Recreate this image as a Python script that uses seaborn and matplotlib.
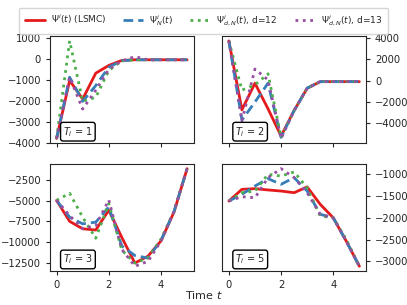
import matplotlib
matplotlib.use("Agg")
import matplotlib.pyplot as plt
import seaborn as sns
import pandas as pd

sns.set_style("ticks")
plt.rcParams['font.family'] = ['DejaVu Sans']

# time grid
t = [0, 0.5, 1, 1.5, 2, 2.5, 3, 3.5, 4, 4.5, 5]

# T_i = 1
lsmc_1 = [-3800, -1040, -1920, -690, -320, -80, -50, -50, -50, -50, -50]
psin_1 = [-3800, -880, -2030, -1280, -400, -100, -50, -50, -50, -50, -50]
d12_1 = [-3800, 850, -2030, -1840, -560, -100, -50, -50, -50, -50, -50]
d13_1 = [-3800, -880, -2400, -1500, -500, -100, 100, -50, -50, -50, -50]

# T_i = 2
lsmc_2 = [3700, -2730, -250, -2630, -5170, -2790, -730, -100, -100, -100, -100]
psin_2 = [3700, -3680, -2000, -250, -5300, -2800, -700, -100, -100, -100, -100]
d12_2 = [3700, -890, -400, 630, -5300, -2800, -700, -100, -100, -100, -100]
d13_2 = [3700, -3750, 1080, 60, -5400, -2800, -700, -100, -100, -100, -100]

# T_i = 3
lsmc_3 = [-4950, -7500, -8400, -8550, -6150, -9450, -12560, -11730, -9870, -6350, -1100]
psin_3 = [-4950, -7000, -7800, -7600, -5750, -10500, -11650, -11950, -9800, -6300, -1100]
d12_3 = [-4950, -4080, -7000, -9550, -5330, -11000, -12560, -11950, -9650, -6300, -1100]
d13_3 = [-4950, -6800, -8400, -8000, -4900, -10900, -12950, -12350, -9900, -6300, -1100]

# T_i = 5
lsmc_5 = [-16150, -13460, -13300, -13600, -13850, -14230, -12900, -16900, -20000, -25400, -31150]
psin_5 = [-16150, -14600, -12700, -11000, -12300, -10770, -13850, -19200, -20000, -25400, -31150]
d12_5 = [-16150, -14230, -13850, -10000, -10400, -9460, -13080, -19600, -20000, -25000, -31150]
d13_5 = [-16150, -15150, -15400, -10770, -8700, -10770, -14230, -19200, -20000, -25400, -31150]

panels = [
    ("1", [lsmc_1, psin_1, d12_1, d13_1]),
    ("2", [lsmc_2, psin_2, d12_2, d13_2]),
    ("3", [lsmc_3, psin_3, d12_3, d13_3]),
    ("5", [lsmc_5, psin_5, d12_5, d13_5]),
]

labels = [r'$\Psi^i(t)$ (LSMC)', r'$\Psi^i_N(t)$',
          r'$\Psi^i_{d,N}(t)$, d=12', r'$\Psi^i_{d,N}(t)$, d=13']
colors = ['#e41a1c', '#377eb8', '#4daf4a', '#984ea3']
styles = ['-', (0, (3.5, 1.8)), ':', ':']

fig, axes = plt.subplots(2, 2, figsize=(4.07, 3.05), dpi=100, sharex=True)
fig.subplots_adjust(left=0.123, right=0.899, top=0.882, bottom=0.111,
                    wspace=0.2, hspace=0.19)

for ax, (ti, series) in zip(axes.flat, panels):
    for vals, lab, c, ls in zip(series, labels, colors, styles):
        df = pd.DataFrame({'t': t, 'v': vals})
        sns.lineplot(data=df, x='t', y='v', ax=ax, color=c, linestyle=ls,
                     linewidth=2, label=lab, legend=False)
    ax.set_xlabel('')
    ax.set_ylabel('')
    ax.set_xticks([0, 2, 4])
    ax.tick_params(labelsize=7.2, length=3)
    ax.text(0.09, 0.08, r'$T_i$ = ' + ti, transform=ax.transAxes, fontsize=7,
            bbox=dict(boxstyle='round,pad=0.25', facecolor='white', edgecolor='black'))

for ax in axes[:, 1]:
    ax.yaxis.tick_right()

axes[0, 0].set_yticks([1000, 0, -1000, -2000, -3000, -4000])
axes[0, 1].set_yticks([4000, 2000, 0, -2000, -4000])
axes[1, 0].set_yticks([-2500, -5000, -7500, -10000, -12500])
axes[1, 1].set_yticks([-10000, -15000, -20000, -25000, -30000])

handles, labs = axes[0, 0].get_legend_handles_labels()
fig.legend(handles, labs, loc='upper center', ncol=4, fontsize=6.5,
           bbox_to_anchor=(0.5, 0.99), handlelength=2.2, handletextpad=0.66,
           columnspacing=1.9, borderpad=0.6, frameon=True)
fig.text(0.5, 0.02, r'Time $t$', ha='center', fontsize=8)

plt.savefig('out.png', dpi=100)
